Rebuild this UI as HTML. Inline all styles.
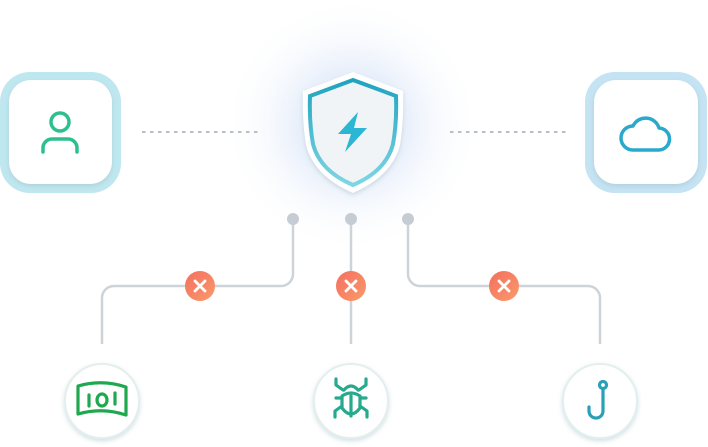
<!DOCTYPE html>
<html><head><style>html,body{margin:0;padding:0;background:#fff}svg{display:block}</style></head>
<body>
<svg width="708" height="447" viewBox="0 0 708 447" xmlns="http://www.w3.org/2000/svg">
<defs>
<radialGradient id="glow" cx="352" cy="125" r="130" gradientUnits="userSpaceOnUse">
<stop offset="0" stop-color="#c6d9f5" stop-opacity="0.9"/>
<stop offset="0.45" stop-color="#dbe6f8" stop-opacity="0.55"/>
<stop offset="1" stop-color="#ffffff" stop-opacity="0"/>
</radialGradient>
<linearGradient id="xg" x1="0" y1="0" x2="1" y2="1"><stop offset="0" stop-color="#f46f5f"/><stop offset="1" stop-color="#f99a6a"/></linearGradient>
<linearGradient id="sg" x1="0" y1="0" x2="0" y2="1"><stop offset="0" stop-color="#1ea3bf"/><stop offset="1" stop-color="#7fd6e3"/></linearGradient>
<filter id="sh" x="-30%" y="-30%" width="160%" height="160%"><feDropShadow dx="0" dy="2" stdDeviation="2.5" flood-color="#9cb8c0" flood-opacity="0.45"/></filter>
</defs>
<rect width="708" height="447" fill="#fff"/>
<circle cx="352" cy="125" r="130" fill="url(#glow)"/>
<line x1="142" y1="132" x2="258" y2="132" stroke="#b9bfc6" stroke-width="2" stroke-dasharray="3.5 4.5"/>
<line x1="450" y1="132" x2="566" y2="132" stroke="#b9bfc6" stroke-width="2" stroke-dasharray="3.5 4.5"/>
<rect x="0" y="72" width="121" height="121" rx="30" fill="#bfe7ef"/>
<rect x="9" y="80" width="103" height="104" rx="22" fill="#fff" filter="url(#sh)"/>
<rect x="585" y="72" width="122" height="121" rx="30" fill="#c4e3f3"/>
<rect x="594" y="80" width="104" height="104" rx="22" fill="#fff" filter="url(#sh)"/>
<g fill="none" stroke="#2ebf8e" stroke-width="3.5" stroke-linecap="round">
<circle cx="60" cy="122" r="9"/>
<path d="M43 152 v-4 a9 9 0 0 1 9 -9 h16 a9 9 0 0 1 9 9 v4"/>
</g>
<path d="M633 150 h25 a11 11 0 0 0 1 -22 a14 14 0 0 0 -26 -2 a12 12 0 0 0 0 24 z" fill="none" stroke="#2aa9cc" stroke-width="3.5" stroke-linejoin="round"/>
<path d="M353 72 L403 91 Q404 120 400 145 Q392 176 353 193 Q314 176 306 145 Q302 120 303 91 Z" fill="#fff" filter="url(#sh)"/>
<path d="M353 80 L396 96 Q397 122 393 144 Q386 171 353 185 Q320 171 313 144 Q309 122 310 96 Z" fill="#f1f4f6" stroke="url(#sg)" stroke-width="4"/>
<path d="M358 112 L338 134 L351 134 L345 152 L367 128 L354 128 Z" fill="#2bb6d3"/>
<g fill="none" stroke="#ced3d8" stroke-width="2.5">
<path d="M293 219 V274 a12 12 0 0 1 -12 12 H114 a12 12 0 0 0 -12 12 V344"/>
<path d="M351 219 V344"/>
<path d="M408 219 V274 a12 12 0 0 0 12 12 H588 a12 12 0 0 1 12 12 V344"/>
</g>
<g fill="#c6ccd3"><circle cx="293" cy="219" r="6"/><circle cx="351" cy="219" r="6"/><circle cx="408" cy="219" r="6"/></g>
<g>
<circle cx="200" cy="286" r="15" fill="url(#xg)"/><circle cx="351" cy="286" r="15" fill="url(#xg)"/><circle cx="504" cy="286" r="15" fill="url(#xg)"/>
<g stroke="#fff" stroke-width="2.8" stroke-linecap="round">
<path d="M195 281 l10 10 M205 281 l-10 10"/>
<path d="M346 281 l10 10 M356 281 l-10 10"/>
<path d="M499 281 l10 10 M509 281 l-10 10"/>
</g></g>
<g fill="#fff" stroke="#e3efee" stroke-width="2" filter="url(#sh)">
<circle cx="102" cy="401" r="37"/><circle cx="351" cy="401" r="37"/><circle cx="600" cy="401" r="37"/>
</g>
<g fill="none" stroke="#1fa84f" stroke-width="3.2" stroke-linecap="round" stroke-linejoin="round">
<path d="M78 386 Q102 379 126 387 V415 Q102 407 78 414 Z"/>
<path d="M89 395 v11 M115 393 v11"/>
<ellipse cx="102" cy="400" rx="5" ry="6"/>
</g>
<g fill="none" stroke="#26a98c" stroke-width="3.2" stroke-linecap="round" stroke-linejoin="round">
<path d="M344 390 Q351 382 358 390"/>
<path d="M342 396 Q351 390 360 396 V408 Q351 420 342 408 Z"/>
<path d="M351 396 V416 M343 390 L336 385 V379 M359 390 L366 385 V379 M342 406 L335 411 V417 M360 406 L367 411 V417 M342 398 H336 M360 398 H366"/>
</g>
<g fill="none" stroke="#2a9fb8" stroke-width="3.2" stroke-linecap="round">
<circle cx="603" cy="385" r="3.5"/>
<path d="M603 389 V411 a7 7 0 0 1 -14 0 V407"/>
</g>
</svg>
</body></html>
